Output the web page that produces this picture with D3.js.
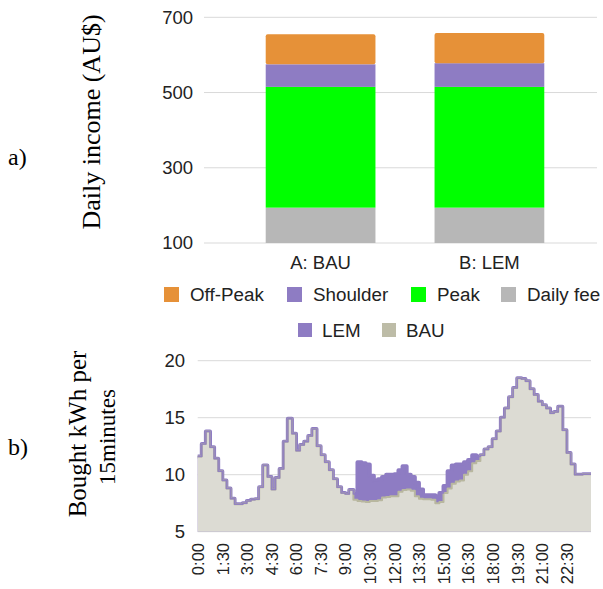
<!DOCTYPE html>
<html><head><meta charset="utf-8">
<script src="https://cdn.jsdelivr.net/npm/d3@7/dist/d3.min.js"></script>
<style>
html,body{margin:0;padding:0;background:#fff;}
svg{display:block;}
</style></head>
<body>
<script>
// ---------- DATA: panel a ----------
const categories = ["A: BAU", "B: LEM"];
const dailyFee = [194, 194];
const peak = [321, 321];
const shoulder = [60, 63];
const offPeak = [80, 80];
const incomeTicks = [100, 300, 500, 700];
const seriesNames = ["Daily fee", "Peak", "Shoulder", "Off-Peak"];
const seriesColors = ["#b7b7b7", "#00ff00", "#8e7cc3", "#e69138"];

// ---------- DATA: panel b (15-minute intervals, 96 values) ----------
const lemValues = [
 11.6,12.7,13.8,12.4,11.4,10.3,9.5,8.8,7.9,7.4,
 7.4,7.5,7.7,7.8,7.85,8.9,10.8,9.8,8.7,9.7,
 10.5,12.9,14.9,13.6,12.1,12.6,12.9,13.4,14.0,12.5,
 11.7,11.1,10.4,9.6,8.9,8.4,8.3,8.65,8.3,11.1,
 11.0,10.9,9.9,9.5,9.6,9.8,10.0,10.0,10.05,10.4,
 10.75,10.0,9.8,9.3,8.7,8.2,8.2,8.2,8.1,8.4,
 9.0,10.3,10.8,10.9,10.9,11.1,11.3,11.7,11.6,11.7,
 12.2,12.4,13.1,13.8,15.0,15.8,16.8,17.6,18.45,18.4,
 18.2,17.5,17.0,16.4,16.1,15.8,15.4,15.5,15.95,13.9,
 11.9,10.9,10.0,10.0,10.05,10.05
];
const bauValues = [
 11.6,12.7,13.8,12.4,11.4,10.3,9.5,8.8,7.9,7.4,
 7.4,7.5,7.7,7.8,7.85,8.9,10.8,9.8,8.7,9.7,
 10.5,12.9,14.9,13.6,12.1,12.6,12.9,13.4,14.0,12.5,
 11.7,11.1,10.4,9.6,8.9,8.4,8.3,8.65,7.8,7.7,
 7.65,7.6,7.7,7.7,7.75,8.0,8.05,8.1,8.1,8.5,
 8.65,8.7,8.6,8.1,7.9,7.85,7.85,7.8,7.5,7.6,
 8.4,8.8,9.2,9.4,9.5,10.0,10.3,11.0,11.2,11.7,
 12.2,12.4,13.1,13.8,15.0,15.8,16.8,17.6,18.45,18.4,
 18.2,17.5,17.0,16.4,16.1,15.8,15.4,15.5,15.95,13.9,
 11.9,10.9,10.0,10.0,10.05,10.05
];
const timeLabels = ["0:00","1:30","3:00","4:30","6:00","7:30","9:00","10:30",
                    "12:00","13:30","15:00","16:30","18:00","19:30","21:00","22:30"];
const kwhTicks = [5, 10, 15, 20];
const lineNames = ["LEM", "BAU"];
const lineColors = ["#8e7cc3", "#bdbca7"];

// ---------- SETUP ----------
const W = 603, H = 589;
const svg = d3.select("body").append("svg").attr("width", W).attr("height", H)
  .style("font-family", "'Liberation Sans', Arial, sans-serif");
svg.append("rect").attr("width", W).attr("height", H).attr("fill", "#fff");
const serif = "'Liberation Serif', 'Times New Roman', serif";
const txt = "#222";

// ---------- PANEL A ----------
const xA = d3.scaleBand().domain(categories).range([210, 600]).paddingInner(0.35).paddingOuter(0.33);
const yA = d3.scaleLinear().domain([100, 700]).range([243, 17.3]);

const gA = svg.append("g");
gA.selectAll("line.grid").data(incomeTicks).join("line")
  .attr("x1", 204).attr("x2", 597)
  .attr("y1", d => yA(d)).attr("y2", d => yA(d))
  .attr("stroke", "#d9d9d9").attr("stroke-width", 1);
gA.selectAll("text.ytick").data(incomeTicks).join("text")
  .attr("x", 193).attr("y", d => yA(d)).attr("dy", "0.35em")
  .attr("text-anchor", "end").attr("font-size", 18.5).attr("fill", txt).text(d => d);

const rows = categories.map((c, i) => ({cat: c, "Daily fee": dailyFee[i], "Peak": peak[i], "Shoulder": shoulder[i], "Off-Peak": offPeak[i]}));
const stacked = d3.stack().keys(seriesNames)(rows);
svg.append("clipPath").attr("id", "clipA").append("rect")
  .attr("x", 204).attr("y", 0).attr("width", 393).attr("height", yA(100));
const barsG = gA.append("g").attr("clip-path", "url(#clipA)");
stacked.forEach((layer, li) => {
  barsG.selectAll(null).data(layer).join("rect")
    .attr("x", d => xA(d.data.cat)).attr("width", xA.bandwidth())
    .attr("y", d => yA(d[1])).attr("height", d => yA(d[0]) - yA(d[1]))
    .attr("fill", seriesColors[li])
    .attr("rx", li === seriesNames.length - 1 ? 2 : 0);
});
gA.selectAll("text.xcat").data(categories).join("text")
  .attr("x", d => xA(d) + xA.bandwidth() / 2).attr("y", 269)
  .attr("text-anchor", "middle").attr("font-size", 18.5).attr("fill", txt).text(d => d);

// legend a
const legA = [
  {name: "Off-Peak", color: seriesColors[3], x: 164},
  {name: "Shoulder", color: seriesColors[2], x: 287},
  {name: "Peak", color: seriesColors[1], x: 411},
  {name: "Daily fee", color: seriesColors[0], x: 501}
];
legA.forEach(d => {
  svg.append("rect").attr("x", d.x).attr("y", 287).attr("width", 15).attr("height", 15).attr("fill", d.color);
  svg.append("text").attr("x", d.x + 26).attr("y", 294.5).attr("dy", "0.35em")
    .attr("font-size", 18.8).attr("fill", txt).text(d.name);
});
svg.append("text").attr("x", 8).attr("y", 157).attr("dy", "0.35em")
  .attr("font-family", serif).attr("font-size", 24).attr("fill", "#000").text("a)");
svg.append("text").attr("transform", "translate(100,122) rotate(-90)")
  .attr("text-anchor", "middle").attr("font-family", serif).attr("font-size", 26)
  .attr("fill", "#000").text("Daily income (AU$)");

// ---------- PANEL B ----------
const xB = d3.scaleLinear().domain([0, 96]).range([197.7, 591]);
const yB = d3.scaleLinear().domain([5, 20]).range([531.7, 360.7]);

// legend b
const legB = [
  {name: lineNames[0], color: lineColors[0], x: 298},
  {name: lineNames[1], color: lineColors[1], x: 382}
];
legB.forEach(d => {
  svg.append("rect").attr("x", d.x).attr("y", 323).attr("width", 14).attr("height", 14).attr("fill", d.color);
  svg.append("text").attr("x", d.x + 24).attr("y", 330.5).attr("dy", "0.35em")
    .attr("font-size", 18.8).attr("fill", txt).text(d.name);
});

const gB = svg.append("g");
gB.selectAll("line.grid").data(kwhTicks).join("line")
  .attr("x1", 197.7).attr("x2", 591)
  .attr("y1", d => yB(d)).attr("y2", d => yB(d))
  .attr("stroke", "#d9d9d9").attr("stroke-width", 1);
gB.selectAll("text.ytick").data(kwhTicks).join("text")
  .attr("x", 185).attr("y", d => yB(d)).attr("dy", "0.35em")
  .attr("text-anchor", "end").attr("font-size", 18.5).attr("fill", txt).text(d => d);

const toPts = arr => arr.map((v, i) => ({i, v})).concat([{i: arr.length, v: arr[arr.length - 1]}]);
const lemPts = toPts(lemValues), bauPts = toPts(bauValues);
const area = d3.area().curve(d3.curveStepAfter).x(d => xB(d.i)).y0(yB(5)).y1(d => yB(d.v));
const line = d3.line().curve(d3.curveStepAfter).x(d => xB(d.i)).y(d => yB(d.v));

gB.append("path").datum(lemPts).attr("d", area).attr("fill", "#8e7cc3");
gB.append("path").datum(lemPts).attr("d", line).attr("fill", "none")
  .attr("stroke", "#8e7cc3").attr("stroke-width", 4).attr("stroke-linejoin", "round");
gB.append("path").datum(bauPts).attr("d", area).attr("fill", "#dcdbd3");
gB.append("path").datum(bauPts).attr("d", line).attr("fill", "none")
  .attr("stroke", "#b8b79f").attr("stroke-width", 2).attr("stroke-linejoin", "round");
gB.append("path").datum(lemPts).attr("d", line).attr("fill", "none")
  .attr("stroke", "#8e7cc3").attr("stroke-width", 1.5).attr("stroke-linejoin", "round")
  .attr("opacity", 0.9);

gB.selectAll("text.xtick").data(timeLabels).join("text")
  .attr("transform", (d, k) => `translate(${xB(k * 6) + 0.5},543) rotate(-90)`)
  .attr("dy", "0.35em").attr("text-anchor", "end")
  .attr("font-size", 16.5).attr("fill", txt).text(d => d);

svg.append("text").attr("x", 8).attr("y", 447).attr("dy", "0.35em")
  .attr("font-family", serif).attr("font-size", 24).attr("fill", "#000").text("b)");
svg.append("text").attr("transform", "translate(86,434) rotate(-90)")
  .attr("text-anchor", "middle").attr("font-family", serif).attr("font-size", 25)
  .attr("fill", "#000").text("Bought kWh per");
svg.append("text").attr("transform", "translate(115,437) rotate(-90)")
  .attr("text-anchor", "middle").attr("font-family", serif).attr("font-size", 23)
  .attr("fill", "#000").text("15minutes");
</script>
</body></html>
